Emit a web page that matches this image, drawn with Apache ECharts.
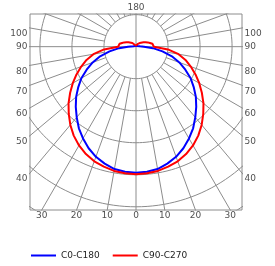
<!DOCTYPE html>
<html>
<head>
<meta charset="utf-8">
<script src="https://cdn.jsdelivr.net/npm/echarts@6/dist/echarts.min.js"></script>
<style>
  html, body { margin: 0; padding: 0; background: #fff; }
  #chart { width: 275px; height: 266px; }
</style>
</head>
<body>
<div id="chart"></div>
<script>
  // gamma angle from nadir (deg) and luminous intensity (cd/klm)
  const gammaAngles = [0, 5, 10, 15, 20, 25, 30, 35, 40, 45, 50, 55, 60, 65, 70, 75, 80, 85, 90,
    95, 100, 105, 110, 115, 120, 135, 150, 165, 180];
  const c0c180 = [394, 392, 388, 378, 366, 350, 331, 311, 288, 266, 244, 220, 197, 170, 144, 116, 84, 53, 25,
    13, 8, 6, 6, 6, 6, 5, 5, 3, 3];
  const c90c270 = [398, 397, 394, 388, 381, 370, 356, 339, 319, 297, 275, 251, 228, 205, 182, 160, 135, 100, 56,
    56, 52, 45, 39, 33, 27, 16, 9, 6, 3];

  const ringValues = [100, 200, 300, 400, 500, 600];
  const radialAngles = [10, 20, 30, 40, 50, 60, 70, 80, 100, 110, 120, 130, 140, 150, 160, 170];
  const sideTicks = [100, 90, 80, 70, 60, 50, 40];
  const bottomTicks = [-30, -20, -10, 0, 10, 20, 30];
  const topTick = 180;

  const X_MIN = -331, X_MAX = 331, Y_MIN = -510, Y_MAX = 102;
  const RAD = Math.PI / 180;
  const gridColor = '#8c8c8c';
  const textColor = '#222';
  const font = 'DejaVu Sans';

  function toXY(r, g, side) {
    return [side * r * Math.sin(g * RAD), -r * Math.cos(g * RAD)];
  }

  // left half runs 180 -> 0, right half 0 -> 180
  function curve(vals) {
    const left = gammaAngles.map((g, i) => toXY(vals[i], g, -1)).reverse();
    const right = gammaAngles.map((g, i) => toXY(vals[i], g, 1));
    return left.concat(right.slice(1));
  }

  function grayLine(points) {
    return {
      type: 'line', data: points, symbol: 'none', silent: true, clip: true,
      lineStyle: { color: gridColor, width: 1 }, z: 1
    };
  }

  const gridSeries = [];
  ringValues.forEach(r => {
    const pts = [];
    for (let a = 0; a <= 360; a += 2) pts.push([r * Math.sin(a * RAD), -r * Math.cos(a * RAD)]);
    gridSeries.push(grayLine(pts));
  });
  radialAngles.forEach(g => {
    [-1, 1].forEach(s => gridSeries.push(grayLine([toXY(100, g, s), toXY(2000, g, s)])));
  });
  gridSeries.push(grayLine([[-2000, 0], [2000, 0]]));
  gridSeries.push(grayLine([[0, -2000], [0, 2000]]));

  // tick labels sit where the radial lines meet the frame
  const sideLabel = (g, s) => ({
    value: [s > 0 ? X_MAX : X_MIN, -X_MAX / Math.tan(g * RAD)],
    label: { formatter: String(g), offset: [0, g === 90 ? 0 : 6] }
  });
  const labelStyle = { show: true, color: textColor, fontSize: 9, fontFamily: font };
  function labelSeries(data, position, distance) {
    return {
      type: 'scatter', data: data, symbolSize: 1, silent: true, clip: false,
      itemStyle: { color: 'rgba(0,0,0,0)' },
      label: Object.assign({ position: position, distance: distance }, labelStyle)
    };
  }

  const labelSeriesList = [
    labelSeries([{ value: [0, Y_MAX], label: { formatter: String(topTick) } }], 'top', 1),
    labelSeries(bottomTicks.map(g => ({
      value: [-Y_MIN * Math.tan(g * RAD), Y_MIN],
      label: { formatter: String(Math.abs(g)) }
    })), 'bottom', 1),
    labelSeries(sideTicks.map(g => sideLabel(g, -1)), 'left', 2),
    labelSeries(sideTicks.map(g => sideLabel(g, 1)), 'right', 2)
  ];

  const chart = echarts.init(document.getElementById('chart'));
  chart.setOption({
    animation: false,
    grid: { left: 30, top: 14, width: 212, height: 196, show: true, borderColor: gridColor, borderWidth: 1 },
    xAxis: { type: 'value', min: X_MIN, max: X_MAX, show: false },
    yAxis: { type: 'value', min: Y_MIN, max: Y_MAX, show: false },
    legend: {
      data: ['C0-C180', 'C90-C270'],
      left: 25, top: 246, itemWidth: 25, itemHeight: 10, itemGap: 12,
      itemStyle: { opacity: 0 },
      textStyle: { fontSize: 9, color: textColor, fontFamily: font }
    },
    series: gridSeries.concat(labelSeriesList, [
      {
        name: 'C0-C180', type: 'line', data: curve(c0c180), symbol: 'none', smooth: false,
        lineStyle: { color: '#0000ff', width: 2 }, itemStyle: { color: '#0000ff' }, z: 3
      },
      {
        name: 'C90-C270', type: 'line', data: curve(c90c270), symbol: 'none', smooth: false,
        lineStyle: { color: '#ff0000', width: 2 }, itemStyle: { color: '#ff0000' }, z: 3
      }
    ])
  });
</script>
</body>
</html>
